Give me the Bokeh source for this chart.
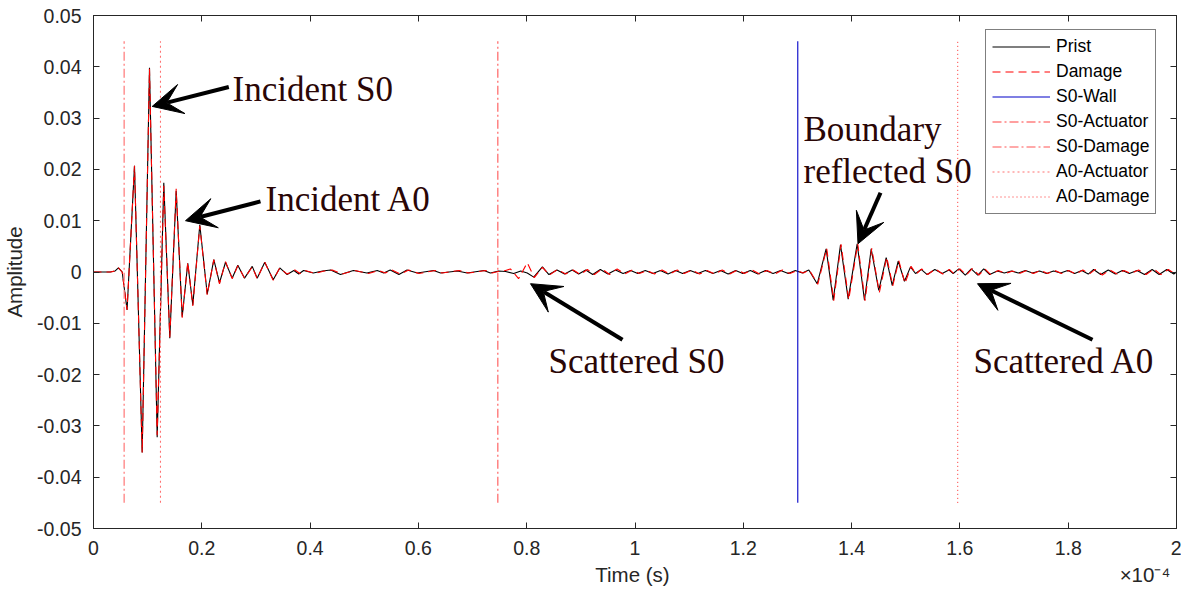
from bokeh.plotting import figure
from bokeh.models import (Range1d, LinearAxis, FixedTicker, CustomJSTickFormatter,
                          Label, Arrow, VeeHead)
from bokeh.embed import file_html
from bokeh.resources import INLINE

# ---------------- data (time in units of 1e-4 s) ----------------
prist_t = [0.000, 0.031, 0.040, 0.046, 0.053, 0.062, 0.0757, 0.0899, 0.1034, 0.1176,
           0.1298, 0.1409, 0.1527, 0.1638, 0.1741, 0.1834, 0.1963, 0.2100, 0.2222, 0.2327,
           0.2438, 0.2561, 0.2665, 0.2789, 0.2931, 0.3023, 0.3163, 0.3319, 0.3440, 0.3577,
           0.370, 0.379, 0.388, 0.406, 0.423, 0.438, 0.456, 0.480, 0.505, 0.524,
           0.536, 0.548, 0.564, 0.579, 0.598, 0.628, 0.641, 0.672, 0.690, 0.721,
           0.733, 0.748, 0.761, 0.776, 0.789, 0.801, 0.813, 0.829, 0.841, 0.856,
           0.870, 0.884, 0.896, 0.909, 0.922, 0.936, 0.950, 0.964, 0.978, 0.992,
           1.005, 1.019, 1.033, 1.047, 1.061, 1.075, 1.088, 1.102, 1.116, 1.130,
           1.144, 1.158, 1.172, 1.186, 1.199, 1.213, 1.227, 1.241, 1.255, 1.269,
           1.283, 1.296, 1.309, 1.321, 1.3365, 1.353, 1.366, 1.3795, 1.3937, 1.4103,
           1.4238, 1.4362, 1.4502, 1.4639, 1.4750, 1.4861, 1.4977, 1.5088, 1.518, 1.5285,
           1.5396, 1.5537, 1.5673, 1.5795, 1.5876, 1.598, 1.610, 1.621, 1.633, 1.644,
           1.655, 1.669, 1.682, 1.695, 1.708, 1.721, 1.734, 1.747, 1.760, 1.773,
           1.786, 1.799, 1.812, 1.825, 1.837, 1.847, 1.860, 1.874, 1.887, 1.900,
           1.913, 1.927, 1.941, 1.955, 1.968, 1.982, 1.995, 2.000]
prist_a = [0.0000, 0.0000, 0.0002, 0.0008, 0.0000, -0.0074, 0.0207, -0.0352, 0.0398, -0.0322,
           0.0174, -0.0129, 0.0158, -0.0087, 0.0017, -0.0064, 0.0092, -0.0043, 0.0024, -0.0021,
           0.0019, -0.0012, 0.0013, -0.0012, 0.0011, -0.0012, 0.0019, -0.0015, 0.0008, -0.0005,
           0.0003, -0.0004, 0.0003, -0.0002, 0.0002, 0.0004, -0.0005, 0.0003, -0.0002, 0.0003,
           -0.0002, 0.0004, -0.0005, 0.0004, -0.0002, 0.0003, -0.0002, 0.0002, -0.0002, 0.0003,
           -0.0002, 0.0002, 0.0001, -0.0003, 0.0002, -0.0002, -0.0010, 0.0010, -0.0005, 0.0004,
           -0.0004, 0.0004, -0.0004, 0.0004, -0.0005, 0.0005, -0.0004, 0.0004, -0.0003, 0.0003,
           -0.0003, 0.0003, -0.0003, 0.0003, -0.0004, 0.0003, -0.0003, 0.0003, -0.0003, 0.0003,
           -0.0003, 0.0003, -0.0004, 0.0003, -0.0003, 0.0003, -0.0004, 0.0003, -0.0003, 0.0003,
           -0.0003, 0.0003, -0.0002, 0.0004, -0.0023, 0.0045, -0.0055, 0.0053, -0.0053, 0.0055,
           -0.0055, 0.0045, -0.0036, 0.0028, -0.0026, 0.0021, -0.0018, 0.0010, -0.0003, 0.0005,
           -0.0005, 0.0005, -0.0003, 0.0004, -0.0003, 0.0006, -0.0006, 0.0006, -0.0006, 0.0006,
           -0.0005, 0.0002, -0.0002, 0.0002, -0.0002, 0.0003, -0.0002, 0.0002, -0.0003, 0.0002,
           -0.0002, 0.0003, -0.0003, 0.0003, -0.0004, 0.0005, -0.0005, 0.0004, -0.0004, 0.0003,
           -0.0003, 0.0003, -0.0005, 0.0005, -0.0005, 0.0005, -0.0004, 0.0000]

damage_t = [0.000, 0.031, 0.040, 0.046, 0.053, 0.062, 0.0757, 0.0899, 0.1034, 0.1176,
            0.1298, 0.1409, 0.1527, 0.1638, 0.1741, 0.1834, 0.1963, 0.2100, 0.2222, 0.2327,
            0.2438, 0.2561, 0.2665, 0.2789, 0.2931, 0.3023, 0.3163, 0.3319, 0.3440, 0.3577,
            0.372, 0.381, 0.391, 0.409, 0.426, 0.441, 0.459, 0.483, 0.508, 0.527,
            0.539, 0.551, 0.567, 0.582, 0.601, 0.631, 0.644, 0.675, 0.693, 0.724,
            0.736, 0.752, 0.761, 0.770, 0.785, 0.801, 0.814, 0.829, 0.842, 0.857,
            0.872, 0.886, 0.899, 0.912, 0.925, 0.939, 0.953, 0.967, 0.981, 0.995,
            1.008, 1.022, 1.036, 1.050, 1.064, 1.078, 1.091, 1.105, 1.119, 1.133,
            1.147, 1.161, 1.175, 1.189, 1.202, 1.216, 1.230, 1.244, 1.258, 1.272,
            1.286, 1.299, 1.311, 1.322, 1.3375, 1.354, 1.367, 1.3805, 1.3947, 1.4113,
            1.4248, 1.4372, 1.4512, 1.4649, 1.4760, 1.4871, 1.4987, 1.5098, 1.519, 1.5295,
            1.5406, 1.5547, 1.5683, 1.5805, 1.5886, 1.600, 1.612, 1.623, 1.635, 1.646,
            1.657, 1.671, 1.684, 1.697, 1.710, 1.723, 1.736, 1.749, 1.762, 1.775,
            1.788, 1.801, 1.814, 1.827, 1.839, 1.850, 1.863, 1.877, 1.890, 1.903,
            1.916, 1.930, 1.944, 1.958, 1.971, 1.985, 1.997, 2.000]
damage_a = [0.0000, 0.0000, 0.0002, 0.0008, 0.0000, -0.0074, 0.0207, -0.0352, 0.0396, -0.0318,
            0.0168, -0.0127, 0.0162, -0.0089, 0.0019, -0.0066, 0.0090, -0.0045, 0.0024, -0.0023,
            0.0020, -0.0013, 0.0012, -0.0012, 0.0010, -0.0013, 0.0019, -0.0016, 0.0008, -0.0004,
            0.0004, -0.0003, 0.0003, -0.0003, 0.0002, 0.0004, -0.0004, 0.0003, -0.0003, 0.0003,
            -0.0002, 0.0004, -0.0004, 0.0004, -0.0003, 0.0003, -0.0002, 0.0003, -0.0002, 0.0003,
            -0.0002, 0.0002, 0.0003, 0.0006, -0.0013, 0.0018, -0.0011, 0.0009, -0.0006, 0.0005,
            -0.0004, 0.0004, -0.0005, 0.0005, -0.0005, 0.0006, -0.0005, 0.0006, -0.0004, 0.0004,
            -0.0003, 0.0003, -0.0004, 0.0004, -0.0004, 0.0004, -0.0003, 0.0004, -0.0004, 0.0003,
            -0.0004, 0.0004, -0.0004, 0.0004, -0.0003, 0.0004, -0.0004, 0.0003, -0.0004, 0.0004,
            -0.0003, 0.0003, -0.0002, 0.0004, -0.0024, 0.0046, -0.0056, 0.0054, -0.0054, 0.0055,
            -0.0056, 0.0046, -0.0040, 0.0029, -0.0027, 0.0022, -0.0022, 0.0011, -0.0004, 0.0006,
            -0.0005, 0.0006, -0.0004, 0.0005, -0.0003, 0.0006, -0.0006, 0.0007, -0.0006, 0.0006,
            -0.0005, 0.0003, -0.0003, 0.0002, -0.0003, 0.0003, -0.0003, 0.0003, -0.0003, 0.0003,
            -0.0003, 0.0003, -0.0004, 0.0004, -0.0004, 0.0005, -0.0006, 0.0004, -0.0004, 0.0003,
            -0.0003, 0.0004, -0.0005, 0.0006, -0.0005, 0.0005, -0.0004, 0.0000]

marker_names = ["S0-Wall", "S0-Actuator", "S0-Damage", "A0-Actuator", "A0-Damage"]
marker_times = [1.3006, 0.0566, 0.7467, 0.1237, 1.596]
marker_extent = 0.045

y_ticks = [-0.05, -0.04, -0.03, -0.02, -0.01, 0.0, 0.01, 0.02, 0.03, 0.04, 0.05]
x_ticks = [0.0, 0.2, 0.4, 0.6, 0.8, 1.0, 1.2, 1.4, 1.6, 1.8, 2.0]
x_axis_title = "Time (s)"
x_multiplier = "\u00d710\u207b\u2074"
y_axis_title = "Amplitude"

annotations = [
    # text, text x, text y, arrow tail x, tail y, tip x, tip y
    ("Incident S0", 0.2567, 0.03554, 0.2499, 0.03606, 0.1084, 0.03228),
    ("Incident A0", 0.3176, 0.01409, 0.3084, 0.01376, 0.1699, 0.0100),
    ("Scattered S0", 0.8403, -0.01749, 0.9769, -0.0132, 0.8070, -0.00228),
    ("Scattered A0", 1.6251, -0.01749, 1.8449, -0.0132, 1.6325, -0.00228),
]

# ---------------- figure ----------------
AX = "#262626"
SANS = "Liberation Sans"
SERIF = "Liberation Serif"

p = figure(width=1181, height=596, x_range=Range1d(0, 2), y_range=Range1d(-0.05, 0.05),
           output_backend="svg", toolbar_location=None,
           min_border_left=93, min_border_right=5, min_border_top=15, min_border_bottom=68)
p.grid.visible = False
p.outline_line_color = AX
p.background_fill_color = "white"
p.border_fill_color = "white"

xfmt = CustomJSTickFormatter(code="return String(Number(tick.toFixed(1)));")
yfmt = CustomJSTickFormatter(code="return Math.abs(tick) < 1e-9 ? '0' : tick.toFixed(2);")


def style_axis(ax, ticks, fmt, show_labels=True):
    ax.ticker = FixedTicker(ticks=ticks)
    ax.formatter = fmt
    ax.axis_line_color = AX
    ax.major_tick_line_color = AX
    ax.major_tick_in = 6
    ax.major_tick_out = 0
    ax.minor_tick_line_color = None
    ax.major_label_text_font = SANS
    if show_labels:
        ax.major_label_text_color = AX
        ax.major_label_text_font_size = "19.5px"
    else:
        ax.major_label_text_color = None
        ax.major_label_text_font_size = "1px"
        ax.major_label_standoff = 0
    ax.axis_label_text_font = SANS
    ax.axis_label_text_font_size = "20.5px"
    ax.axis_label_text_font_style = "normal"
    ax.axis_label_text_color = AX


style_axis(p.xaxis[0], x_ticks, xfmt)
style_axis(p.yaxis[0], y_ticks, yfmt)

# x-axis title centred on the frame, with the 10^-4 multiplier at the right end of
# the same line (non-breaking spaces keep the title centred)
NB = "\u00a0"
p.xaxis[0].axis_label = NB * 87 + x_axis_title + NB * 79 + x_multiplier
p.yaxis[0].axis_label = y_axis_title
p.xaxis[0].major_label_standoff = 12
p.yaxis[0].major_label_standoff = 12
p.xaxis[0].axis_label_standoff = 5
p.yaxis[0].axis_label_standoff = 8

top_ax = LinearAxis()
style_axis(top_ax, x_ticks, xfmt, show_labels=False)
p.add_layout(top_ax, "above")
right_ax = LinearAxis()
style_axis(right_ax, y_ticks, yfmt, show_labels=False)
p.add_layout(right_ax, "right")

# ---------------- signals ----------------
p.line(prist_t, prist_a, line_color="black", line_width=1.1, legend_label="Prist")
p.line(damage_t, damage_a, line_color="red", line_width=1.1, line_dash="8 5",
       legend_label="Damage")

marker_styles = {
    "S0-Wall": dict(line_color="#0000c8", line_dash="solid", line_width=1.1),
    "S0-Actuator": dict(line_color="#ff8080", line_dash="9 3 2 3", line_width=1.3),
    "S0-Damage": dict(line_color="#ff5555", line_dash="9 3 2 3", line_width=1.1),
    "A0-Actuator": dict(line_color="#ff7070", line_dash="2 3", line_width=1.1),
    "A0-Damage": dict(line_color="#ff2a2a", line_dash="1 3", line_width=1.0),
}
order = ["S0-Wall", "S0-Actuator", "S0-Damage", "A0-Actuator", "A0-Damage"]
for name in order:
    t = marker_times[marker_names.index(name)]
    p.line([t, t], [-marker_extent, marker_extent], legend_label=name, **marker_styles[name])

# ---------------- legend ----------------
lg = p.legend[0]
lg.location = (892, 314)
lg.label_text_font = SANS
lg.label_text_font_size = "17.5px"
lg.label_text_color = "black"
lg.glyph_width = 58
lg.glyph_height = 21
lg.label_height = 21
lg.label_standoff = 6
lg.spacing = 4
lg.padding = 6
lg.margin = 0
lg.border_line_color = "black"
lg.border_line_width = 1
lg.background_fill_alpha = 1.0

# ---------------- annotations ----------------
TXT = "#2a0606"


def head():
    return VeeHead(size=30, fill_color="black", line_color="black", line_width=1)


for text, tx, ty, x0, y0, x1, y1 in annotations:
    p.add_layout(Label(x=tx, y=ty, text=text, text_font=SERIF, text_font_size="35px",
                       text_color=TXT, text_baseline="middle", text_align="left"))
    p.add_layout(Arrow(x_start=x0, y_start=y0, x_end=x1, y_end=y1, line_width=4,
                       line_color="black", end=head()))

p.add_layout(Label(x=1.3112, y=0.02774, text="Boundary", text_font=SERIF,
                   text_font_size="35px", text_color=TXT, text_baseline="middle"))
p.add_layout(Label(x=1.3112, y=0.01955, text="reflected S0", text_font=SERIF,
                   text_font_size="35px", text_color=TXT, text_baseline="middle"))
p.add_layout(Arrow(x_start=1.4534, y_start=0.01546, x_end=1.4118, y_end=0.0055, line_width=4,
                   line_color="black", end=head()))

open("out.html", "w").write(file_html(p, INLINE))
